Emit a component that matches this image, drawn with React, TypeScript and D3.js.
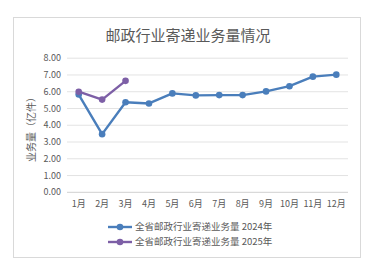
import React from "react";
import * as d3 from "d3";

const months = ["1月", "2月", "3月", "4月", "5月", "6月", "7月", "8月", "9月", "10月", "11月", "12月"];
const values2024 = [5.83, 3.47, 5.37, 5.3, 5.9, 5.78, 5.8, 5.8, 6.02, 6.33, 6.9, 7.02];
const values2025 = [6.0, 5.53, 6.65];
const yTicks = [0, 1, 2, 3, 4, 5, 6, 7, 8];
const seriesNames = ["全省邮政行业寄递业务量 2024年", "全省邮政行业寄递业务量 2025年"];
const colors = ["#4a7ebb", "#7d5fa6"];

const W = 375;
const H = 278;
const font = "'Noto Sans CJK SC', 'Noto Sans', sans-serif";

export default function App() {
  const x = d3.scaleBand<string>().domain(months).range([67, 348]);
  const y = d3.scaleLinear().domain([0, 8]).range([192.3, 58.2]);
  const cx = (m: string) => (x(m) as number) + x.bandwidth() / 2;
  const line = d3
    .line<number>()
    .x((_, i) => cx(months[i]))
    .y((d) => y(d));
  const series = [values2024, values2025];

  return (
    <svg
      width={W}
      height={H}
      style={{ position: "absolute", left: 0, top: 0, background: "#fff" }}
      fontFamily={font}
    >
      <rect x={13.5} y={17.5} width={347} height={240} fill="#fff" stroke="#d9d9d9" strokeWidth={1} />
      <text x={188} y={41} textAnchor="middle" fontSize={15} fill="#595959">
        邮政行业寄递业务量情况
      </text>
      {yTicks.map((t) => (
        <g key={t}>
          <line x1={67} x2={348} y1={y(t)} y2={y(t)} stroke={t === 0 ? "#d0d0d0" : "#e3e3e3"} strokeWidth={1} />
          <text x={61} y={y(t)} dy="0.35em" textAnchor="end" fontSize={9} fill="#595959">
            {t.toFixed(2)}
          </text>
        </g>
      ))}
      {months.map((m) => (
        <text key={m} x={cx(m)} y={207} textAnchor="middle" fontSize={9} fill="#595959">
          {m}
        </text>
      ))}
      <text
        transform={`translate(35,127) rotate(-90)`}
        textAnchor="middle"
        fontSize={10}
        fill="#595959"
      >
        业务量（亿件）
      </text>
      {series.map((s, si) => (
        <g key={si}>
          <path d={line(s) as string} fill="none" stroke={colors[si]} strokeWidth={2.4} strokeLinejoin="round" />
          {s.map((v, i) => (
            <circle key={i} cx={cx(months[i])} cy={y(v)} r={3.3} fill={colors[si]} />
          ))}
        </g>
      ))}
      {seriesNames.map((n, i) => {
        const ly = 227 + i * 15;
        return (
          <g key={n}>
            <line x1={108} x2={132} y1={ly} y2={ly} stroke={colors[i]} strokeWidth={2.4} />
            <circle cx={120} cy={ly} r={3.3} fill={colors[i]} />
            <text x={135} y={ly} dy="0.35em" fontSize={9.5} fill="#595959">
              {n}
            </text>
          </g>
        );
      })}
    </svg>
  );
}
